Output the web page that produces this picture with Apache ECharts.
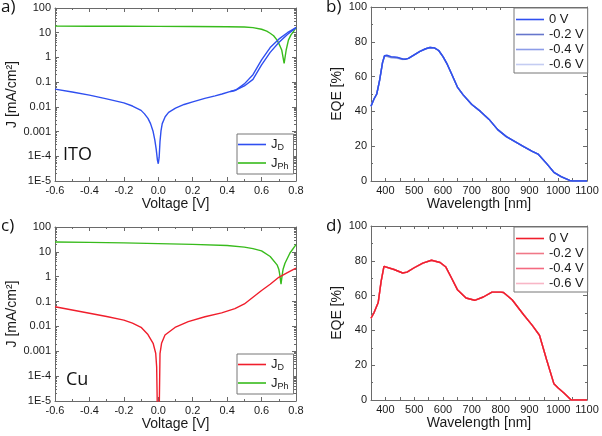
<!DOCTYPE html>
<html><head><meta charset="utf-8">
<script src="https://cdn.jsdelivr.net/npm/echarts@6/dist/echarts.min.js"></script>
<style>html,body{margin:0;padding:0;background:#fff}#c{width:602px;height:436px}</style>
</head><body><div id="c"></div>
<script>
// ---------- Panel a) ITO : J-V (log |J|) ----------
const voltDITO   = [-0.6,-0.5,-0.4,-0.3,-0.2,-0.15,-0.1,-0.08,-0.06,-0.045,-0.03,-0.02,-0.012,-0.005,0,0.005,0.01,0.016,0.023,0.04,0.06,0.1,0.15,0.2,0.27,0.33,0.37,0.42,0.45,0.5,0.55,0.6,0.65,0.7,0.75,0.8];
const jDITOfwd   = [0.052,0.040,0.030,0.021,0.0145,0.0108,0.0072,0.0052,0.0034,0.0021,0.0010,0.00045,0.00019,0.00007,0.00005,0.00009,0.0004,0.0011,0.0021,0.0040,0.0060,0.0089,0.0125,0.016,0.022,0.028,0.033,0.042,0.048,0.085,0.2,0.8,2.5,5.5,10,16];
const voltDITOrev = [0.42,0.45,0.5,0.55,0.6,0.65,0.7,0.75,0.8];
const jDITOrev    = [0.042,0.047,0.07,0.13,0.5,1.6,4.0,8.5,16];
const voltPhITO  = [-0.6,-0.4,-0.2,0,0.2,0.4,0.5,0.55,0.6,0.63,0.65,0.67,0.69,0.7,0.717,0.731,0.743,0.756,0.77,0.785,0.8];
const jPhITO     = [18.5,18.3,18.2,18,17.8,17.5,17,16,13.8,11.5,9.5,7.5,5,3.7,2.0,0.57,2.0,5,8,11,16];

// ---------- Panel c) Cu : J-V (log |J|) ----------
const voltDCu    = [-0.6,-0.5,-0.4,-0.3,-0.2,-0.15,-0.1,-0.06,-0.03,-0.015,-0.0095,-0.006,0,0.006,0.01,0.019,0.039,0.097,0.174,0.271,0.368,0.445,0.5,0.55,0.6,0.65,0.7,0.75,0.8];
const jDCu       = [0.062,0.046,0.034,0.025,0.018,0.0135,0.0092,0.0047,0.0021,0.00083,0.00024,0.000008,0.000001,0.000008,0.0008,0.0021,0.0045,0.0091,0.0155,0.0245,0.035,0.052,0.08,0.15,0.28,0.5,0.95,1.45,2.2];
const voltPhCu   = [-0.6,-0.4,-0.2,0,0.2,0.4,0.5,0.55,0.6,0.65,0.69,0.7,0.705,0.713,0.72,0.725,0.736,0.765,0.8];
const jPhCu      = [25,24,23,21.5,20,18,15.5,13.5,11,6.5,3.0,2.0,1.3,0.5,1.2,2.0,3.5,9,19.5];

// ---------- Panel b) ITO : EQE ----------
const wlITO      = [350,360,370,380,390,397,405,420,440,460,470,480,500,520,540,555,570,585,600,615,630,650,670,700,730,760,790,820,850,880,910,930,960,985,1010,1040,1050,1100];
const eqeITO0V   = [43,47,50,58,68,72,72.3,71.5,71.2,70.2,70,70.5,72.5,74.5,76,76.7,76.5,75,71.5,67,61.5,54,49.5,44,40,35.4,29.5,25.5,22.6,19.8,17,15.5,10,5,2.5,0.3,0,0];
const eqeITO02V  = [43,47,50,58,68,72,72,71.2,70.9,70,70,70.5,72.5,74.5,76,76.7,76.5,75,71.5,67,61.5,54,49.5,44,40,35.4,29.5,25.5,22.6,19.8,17,15.5,10,5,2.5,0.3,0,0];
const eqeITO04V  = [43,47,50,58,68,72,71.8,71,70.8,70,70,70.5,72.5,74.5,76,76.7,76.5,75,71.5,67,61.5,54,49.5,44,40,35.4,29.5,25.5,22.6,19.8,17,15.5,10,5,2.5,0.3,0,0];
const eqeITO06V  = [43,47,50,58,68,71.8,71.6,70.8,70.6,69.9,70,70.5,72.5,74.5,76,76.7,76.5,75,71.5,67,61.5,54,49.5,44,40,35.4,29.5,25.5,22.6,19.8,17,15.5,10,5,2.5,0.3,0,0];

// ---------- Panel d) Cu : EQE ----------
const wlCu       = [350,360,375,385,395,400,430,460,475,500,530,560,590,610,630,650,680,710,740,770,800,810,840,880,910,935,960,985,1000,1020,1045,1100];
const eqeCu0V    = [47,50,56,68,76.8,77,75,73,73.5,76,78.7,80.3,79,76.4,70,63.4,58.6,57.3,59.2,62,62,61.8,57.6,49,42.9,37.2,23,9.4,6.9,4,0,0];
const eqeCu02V   = [47,50,56,68,76.8,77,75,73,73.5,76,78.7,80.3,79,76.4,70,63.4,58.6,57.3,59.2,62,62,61.8,57.6,49,42.9,37.2,23,9.4,6.9,4,0,0];
const eqeCu04V   = [47,50,56,68,76.8,77,75,73,73.5,76,78.7,80.3,79,76.4,70,63.4,58.6,57.3,59.2,62,62,61.8,57.6,49,42.9,37.2,23,9.4,6.9,4,0,0];
const eqeCu06V   = [47,50,56,68,76.8,77,75,73,73.5,76,78.7,80.3,79,76.4,70,63.4,58.6,57.3,59.2,62,62,61.8,57.6,49,42.9,37.2,23,9.4,6.9,4,0,0];

// ---------- axis tick labels ----------
const logTickLabels = {'2':'100','1':'10','0':'1','-1':'0.1','-2':'0.01','-3':'0.001','-4':'1E-4','-5':'1E-5'};
const biasLabels = ['0 V','-0.2 V','-0.4 V','-0.6 V'];

const zip = (xs, ys) => xs.map((x, i) => [x, ys[i]]);
const FONT = '"Liberation Sans", Arial, sans-serif';
const axCol = '#6a6a6a', txtCol = '#1a1a1a';

const minorLog = [];
for (let e = -5; e < 2; e++) for (let k = 2; k <= 9; k++) minorLog.push(k * Math.pow(10, e));

const grids = [
  {left: 55,  top: 8,   width: 241, height: 173},
  {left: 371, top: 7,   width: 216, height: 174},
  {left: 55,  top: 227, width: 241, height: 174},
  {left: 371, top: 226, width: 216, height: 174}
];

const lbl = {fontFamily: FONT, fontSize: 11, color: txtCol};
const nameStyle = {fontFamily: FONT, fontSize: 14, color: txtCol};
const aLine = (show) => ({show, onZero:false, lineStyle:{color:axCol}});

function xV(gi) { // voltage axis
  return [
    {type:'value', gridIndex: gi, position:'bottom', min:-0.6, max:0.8, interval:0.2,
     name:'Voltage [V]', nameLocation:'middle', nameGap:13, nameTextStyle: nameStyle,
     axisLine:aLine(true), axisTick:{inside:true,length:4,lineStyle:{color:axCol}},
     minorTick:{show:true,splitNumber:2,length:2,lineStyle:{color:axCol}},
     splitLine:{show:false}, axisLabel:{...lbl, margin:4, formatter: v => v.toFixed(1)}},
    {type:'value', gridIndex: gi, position:'top', min:-0.6, max:0.8, interval:0.2,
     axisLine:aLine(true), axisTick:{inside:true,length:4,lineStyle:{color:axCol}},
     minorTick:{show:true,splitNumber:2,length:2,lineStyle:{color:axCol}},
     splitLine:{show:false}, axisLabel:{show:false}}
  ];
}
function xW(gi) { // wavelength axis
  return [
    {type:'value', gridIndex: gi, position:'bottom', min:350, max:1100, interval:50,
     name:'Wavelength [nm]', nameLocation:'middle', nameGap:14, nameTextStyle: nameStyle,
     axisLine:aLine(true), axisTick:{inside:true,length:3,lineStyle:{color:axCol}},
     splitLine:{show:false}, axisLabel:{...lbl, margin:4, showMinLabel:true, showMaxLabel:true,
       formatter: v => (v % 100 === 0 ? String(v) : '')}},
    {type:'value', gridIndex: gi, position:'top', min:350, max:1100, interval:50,
     axisLine:aLine(true), axisTick:{inside:true,length:3,lineStyle:{color:axCol}},
     splitLine:{show:false}, axisLabel:{show:false}}
  ];
}
function yJ(gi) { // log current axis
  const base = {type:'log', logBase:10, gridIndex: gi, min:1e-5, max:100, splitNumber:7, splitLine:{show:false}};
  return [
    {...base, position:'left', name:'J [mA/cm²]', nameLocation:'middle', nameGap:30, nameTextStyle: nameStyle,
     axisLine:aLine(true), axisTick:{show:true,inside:true,length:4,lineStyle:{color:axCol}},
     axisLabel:{...lbl, margin:4, formatter: v => logTickLabels[String(Math.round(Math.log10(v)))] || ''}},
    {...base, position:'right', axisLine:aLine(true),
     axisTick:{show:true,inside:true,length:4,lineStyle:{color:axCol}}, axisLabel:{show:false}},
    {...base, position:'left', axisLine:aLine(false), axisLabel:{show:false},
     axisTick:{show:true,inside:true,length:2,customValues:minorLog,lineStyle:{color:axCol}}},
    {...base, position:'right', axisLine:aLine(false), axisLabel:{show:false},
     axisTick:{show:true,inside:true,length:2,customValues:minorLog,lineStyle:{color:axCol}}}
  ];
}
function yE(gi) { // EQE axis
  return [
    {type:'value', gridIndex: gi, position:'left', min:0, max:100, interval:20,
     name:'EQE [%]', nameLocation:'middle', nameGap:27, nameTextStyle: nameStyle,
     axisLine:aLine(true), axisTick:{show:true,inside:true,length:4,lineStyle:{color:axCol}},
     minorTick:{show:true,splitNumber:2,length:2,lineStyle:{color:axCol}},
     splitLine:{show:false}, axisLabel:{...lbl, margin:4}},
    {type:'value', gridIndex: gi, position:'right', min:0, max:100, interval:20,
     axisLine:aLine(true), axisTick:{show:true,inside:true,length:4,lineStyle:{color:axCol}},
     minorTick:{show:true,splitNumber:2,length:2,lineStyle:{color:axCol}},
     splitLine:{show:false}, axisLabel:{show:false}}
  ];
}

const xAxes = [...xV(0), ...xW(1), ...xV(2), ...xW(3)];
// x indices: a=0, b=2, c=4, d=6
const yAxes = [...yJ(0), ...yE(1), ...yJ(2), ...yE(3)];
// y indices: a=0, b=4, c=6, d=10

const BLUE = '#2f4ff0', GREEN = '#38bb1c', RED = '#f01e2c';
const line = (name, data, xi, yi, color, w, z) => ({
  type:'line', name, data, xAxisIndex: xi, yAxisIndex: yi, symbol:'none', smooth:false,
  clip:true, lineStyle:{color, width: w}, itemStyle:{color}, z: z || 2, silent:true, animation:false
});

const series = [
  line('JD_ITO', zip(voltDITO, jDITOfwd), 0, 0, BLUE, 1.4, 3),
  line('JD_ITO', zip(voltDITOrev, jDITOrev), 0, 0, BLUE, 1.4, 3),
  line('JPh_ITO', zip(voltPhITO, jPhITO), 0, 0, GREEN, 1.4, 2),

  line('b_06', zip(wlITO, eqeITO06V), 2, 4, '#c4ccf2', 1.6, 2),
  line('b_04', zip(wlITO, eqeITO04V), 2, 4, '#8c9ce8', 1.4, 3),
  line('b_02', zip(wlITO, eqeITO02V), 2, 4, '#6676cc', 1.4, 4),
  line('b_0',  zip(wlITO, eqeITO0V),  2, 4, BLUE, 1.4, 5),

  line('JD_Cu', zip(voltDCu, jDCu), 4, 6, RED, 1.4, 3),
  line('JPh_Cu', zip(voltPhCu, jPhCu), 4, 6, GREEN, 1.4, 2),

  line('d_06', zip(wlCu, eqeCu06V), 6, 10, '#f8b6c6', 1.6, 2),
  line('d_04', zip(wlCu, eqeCu04V), 6, 10, '#f46a80', 1.4, 3),
  line('d_02', zip(wlCu, eqeCu02V), 6, 10, '#f07888', 1.4, 4),
  line('d_0',  zip(wlCu, eqeCu0V),  6, 10, RED, 1.4, 5)
];

const legBase = {
  orient:'vertical', icon:'rect', itemWidth:28, itemHeight:1.6, itemGap:2, selectedMode:false,
  borderColor:'#777', borderWidth:1, backgroundColor:'#fff', borderRadius:0
};
const jRich = {
  m:{fontFamily:FONT, fontSize:13, color:txtCol},
  s:{fontFamily:FONT, fontSize:9, color:txtCol, padding:[7,0,0,0]}
};
const biasMap = {'b_0':0,'b_02':1,'b_04':2,'b_06':3,'d_0':0,'d_02':1,'d_04':2,'d_06':3};
const legends = [
  {...legBase, left:237, top:134, itemGap:4, padding:[4,5,3,1], data:['JD_ITO','JPh_ITO'],
   formatter: n => n.startsWith('JD') ? '{m|J}{s|D}' : '{m|J}{s|Ph}',
   textStyle:{fontFamily:FONT, fontSize:13, color:txtCol, rich:jRich}},
  {...legBase, left:514, top:8, padding:[5,4,2,2], data:['b_0','b_02','b_04','b_06'],
   formatter: n => biasLabels[biasMap[n]], textStyle:{fontFamily:FONT, fontSize:13, color:txtCol}},
  {...legBase, left:237, top:354, itemGap:4, padding:[4,5,3,1], data:['JD_Cu','JPh_Cu'],
   formatter: n => n.startsWith('JD') ? '{m|J}{s|D}' : '{m|J}{s|Ph}',
   textStyle:{fontFamily:FONT, fontSize:13, color:txtCol, rich:jRich}},
  {...legBase, left:514, top:227, padding:[5,4,2,2], data:['d_0','d_02','d_04','d_06'],
   formatter: n => biasLabels[biasMap[n]], textStyle:{fontFamily:FONT, fontSize:13, color:txtCol}}
];

const PF = '"Open Sans", sans-serif';
const gtext = (text, x, y, size) => ({type:'text', left:x, top:y, silent:true,
  style:{text, font: `${size}px ${PF}`, fill:'#111'}});
const graphic = [
  gtext('a)', 1, -1, 17), gtext('b)', 326, -1, 17),
  gtext('c)', 1, 218, 17), gtext('d)', 326, 218, 17),
  gtext('ITO', 63, 146, 18), gtext('Cu', 66, 371, 18)
];

const chart = echarts.init(document.getElementById('c'), null, {renderer:'canvas'});
chart.setOption({
  backgroundColor:'#fff', animation:false,
  grid: grids, xAxis: xAxes, yAxis: yAxes, series, legend: legends, graphic
});
</script>
</body></html>
